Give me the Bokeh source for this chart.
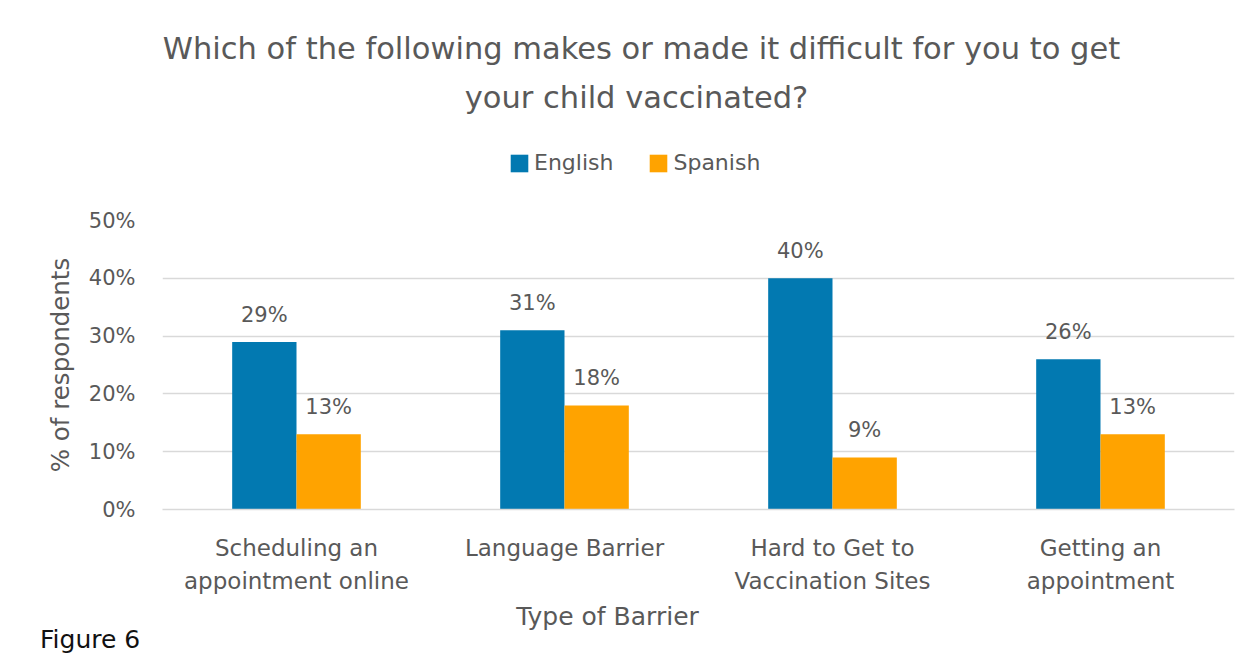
from bokeh.plotting import figure
from bokeh.layouts import column, row
from bokeh.models import ColumnDataSource, LabelSet, Label, Legend, LegendItem, FactorRange, NumeralTickFormatter, FixedTicker, Range1d, Div
from bokeh.transform import dodge
from bokeh.core.properties import value
from bokeh.embed import file_html
from bokeh.resources import INLINE

categories = ["Scheduling an\nappointment online", "Language Barrier", "Hard to Get to\nVaccination Sites", "Getting an\nappointment"]
english = [0.29, 0.31, 0.40, 0.26]
spanish = [0.13, 0.18, 0.09, 0.13]
eng_labels = ["29%", "31%", "40%", "26%"]
spa_labels = ["13%", "18%", "9%", "13%"]
y_ticks = [0, 0.1, 0.2, 0.3, 0.4, 0.5]

BLUE = "#0279B1"
ORANGE = "#FFA300"
GREY = "#595959"
FONT = "DejaVu Sans"
W = 1252
LEFT = 162

src = ColumnDataSource(dict(cat=categories, en=english, es=spanish, enl=eng_labels, esl=spa_labels))
xr = FactorRange(*categories)


def bare(w, h):
    f = figure(width=w, height=h, x_range=xr, y_range=Range1d(10, 11), output_backend="svg",
               toolbar_location=None, min_border=0, x_axis_location=None, y_axis_location=None)
    f.outline_line_color = None
    f.grid.visible = False
    f.border_fill_color = "white"
    return f


def lab(f, text, x, y, size, color=GREY, align="center"):
    f.add_layout(Label(x=x, y=y, x_units="screen", y_units="screen", text=text, text_align=align,
                       text_baseline="middle", text_font=FONT, text_font_size=size, text_color=color))


# ---- header: title + legend (frame aligned with chart frame, starts at x=LEFT) ----
top = bare(W, 206)
t_en = top.vbar(x=dodge("cat", -0.12, range=xr), top="en", width=0.24, source=src, color=BLUE, line_color=None)
t_es = top.vbar(x=dodge("cat", 0.12, range=xr), top="es", width=0.24, source=src, color=ORANGE, line_color=None)
lab(top, "Which of the following makes or made it difficult for you to get", 641 - LEFT, 206 - 48, "30.5px")
lab(top, "your child vaccinated?", 636 - LEFT, 206 - 97, "30.5px")
legend = Legend(items=[LegendItem(label="English", renderers=[t_en]), LegendItem(label="Spanish", renderers=[t_es])],
                orientation="horizontal", location=(508 - LEFT, 31), padding=0, margin=0, spacing=34,
                glyph_width=22, glyph_height=22, label_standoff=4,
                label_text_font=FONT, label_text_font_size="22px", label_text_color=GREY,
                background_fill_alpha=0, border_line_color=None)
top.add_layout(legend, "center")

# ---- main chart ----
p = figure(width=W, height=392, x_range=xr, y_range=(0, 0.5), output_backend="svg", toolbar_location=None,
           min_border_left=LEFT, min_border_right=18, min_border_top=14, min_border_bottom=89)
p.outline_line_color = None
p.border_fill_color = "white"

r_en = p.vbar(x=dodge("cat", -0.12, range=xr), top="en", width=0.24, source=src, color=BLUE, line_color=None)
r_es = p.vbar(x=dodge("cat", 0.12, range=xr), top="es", width=0.24, source=src, color=ORANGE, line_color=None)

for col, lb, off in (("en", "enl", -0.12), ("es", "esl", 0.12)):
    p.add_layout(LabelSet(x=dodge("cat", off, range=xr), y=col, text=lb, source=src,
                          y_offset=20, text_align="center", text_baseline="alphabetic",
                          text_font=value(FONT), text_font_size="21px", text_color=GREY))

p.xgrid.grid_line_color = None
p.ygrid.grid_line_color = "#d9d9d9"
p.ygrid.grid_line_width = 1.5
p.yaxis.ticker = FixedTicker(ticks=y_ticks)
p.yaxis.formatter = NumeralTickFormatter(format="0%")
p.yaxis.axis_line_color = None
p.yaxis.major_tick_line_color = None
p.yaxis.minor_tick_line_color = None
p.yaxis.major_tick_out = 0
p.yaxis.minor_tick_out = 0
p.yaxis.major_label_standoff = 27
p.yaxis.major_label_text_font = FONT
p.yaxis.major_label_text_font_size = "21px"
p.yaxis.major_label_text_color = GREY
p.yaxis.axis_label = "% of respondents"
p.yaxis.axis_label_standoff = 11
p.yaxis.axis_label_text_font = FONT
p.yaxis.axis_label_text_font_size = "24.5px"
p.yaxis.axis_label_text_font_style = "normal"
p.yaxis.axis_label_text_color = GREY

p.xaxis.axis_line_color = "#d9d9d9"
p.xaxis.axis_line_width = 1.5
p.xaxis.major_tick_line_color = None
p.xaxis.minor_tick_line_color = None
p.xaxis.major_tick_out = 0
p.xaxis.minor_tick_out = 0
p.xaxis.major_label_standoff = 25
p.xaxis.major_label_text_font = FONT
p.xaxis.major_label_text_font_size = "23px"
p.xaxis.major_label_text_color = GREY
p.xaxis.major_label_text_line_height = 1.27

# ---- footer: caption (left) + x-axis title ----
caption = Div(text='<div style="font-family: \'DejaVu Sans\'; font-size: 25px; color: #111111; '
                   'padding: 24px 0 0 40px; white-space: nowrap;">Figure 6</div>',
              width=LEFT, height=66, margin=0)
bottom = bare(W - LEFT, 66)
lab(bottom, "Type of Barrier", 607 - LEFT, 48, "25px")

layout = column(top, p, row(caption, bottom, spacing=0), spacing=0)
open("out.html", "w").write(file_html(layout, INLINE))
